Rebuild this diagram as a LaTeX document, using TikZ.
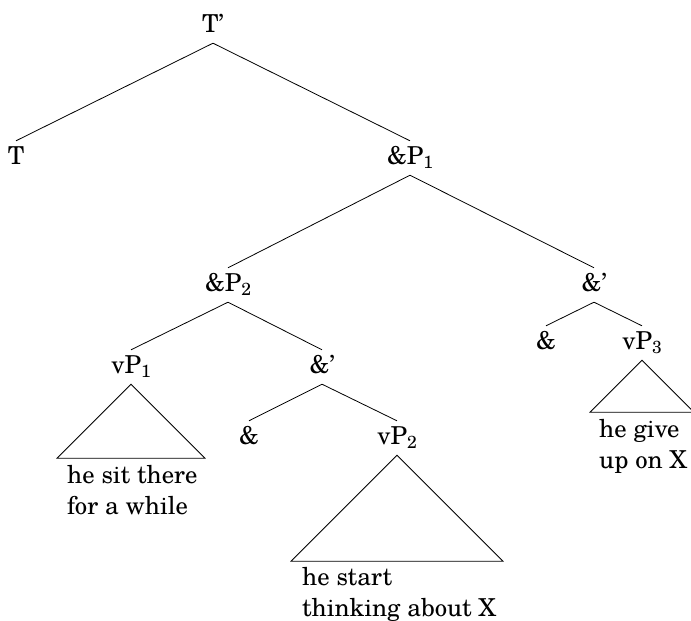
\documentclass[tikz,border=0pt]{standalone}
\usepackage{fontspec}
\setmainfont{TeX Gyre Schola}
\newcommand{\lsub}[1]{\raisebox{-4.5pt}{\fontsize{17.5}{17.5}\selectfont #1}}
\begin{document}
\begin{tikzpicture}[x=1pt,y=-1pt,
  lab/.style={anchor=base, font=\fontsize{24.7}{31}\selectfont, text height=17pt, text depth=5pt, inner xsep=0pt, inner ysep=6pt},
  edge/.style={line width=0.8pt},
  txt/.style={anchor=base west, inner sep=0pt, font=\fontsize{24.7}{31}\selectfont}]
\useasboundingbox (0,0) rectangle (691,621);
% labels
\node[lab] (Tp) at (213,32) {T'};
\node[lab] (T) at (16,164) {T};
\node[lab] (A1) at (410,164) {\&P\lsub{1}};
\node[lab] (A2) at (228,291) {\&P\lsub{2}};
\node[lab] (Ab) at (594,291) {\&'};
\node[lab] (V1) at (131,373) {vP\lsub{1}};
\node[lab] (Aa) at (322,373) {\&'};
\node[lab] (Cb) at (546,349) {\&};
\node[lab] (V3) at (642,349) {vP\lsub{3}};
\node[lab] (Ca) at (249,444) {\&};
\node[lab] (V2) at (397,444) {vP\lsub{2}};
% edges
\draw[edge] (Tp.south) -- (T.north);
\draw[edge] (Tp.south) -- (A1.north);
\draw[edge] (A1.south) -- (A2.north);
\draw[edge] (A1.south) -- (Ab.north);
\draw[edge] (A2.south) -- (V1.north);
\draw[edge] (A2.south) -- (Aa.north);
\draw[edge] (Ab.south) -- (Cb.north);
\draw[edge] (Ab.south) -- (V3.north);
\draw[edge] (Aa.south) -- (Ca.north);
\draw[edge] (Aa.south) -- (V2.north);
% triangles
\draw[edge] (V1.south) -- ++(-74,74) -- ++(148,0) -- cycle;
\draw[edge] (V2.south) -- ++(-106,106) -- ++(212,0) -- cycle;
\draw[edge] (V3.south) -- ++(-52,52) -- ++(104,0) -- cycle;
% terminal strings
\node[txt] (S1) at (67,483) {\begin{tabular}[t]{@{}l@{}}he sit there\\for a while\end{tabular}};
\node[txt] (S2) at (302,585) {\begin{tabular}[t]{@{}l@{}}he start\\thinking about X\end{tabular}};
\node[txt] (S3) at (599,437) {\begin{tabular}[t]{@{}l@{}}he give\\up on X\end{tabular}};
\end{tikzpicture}
\end{document}
